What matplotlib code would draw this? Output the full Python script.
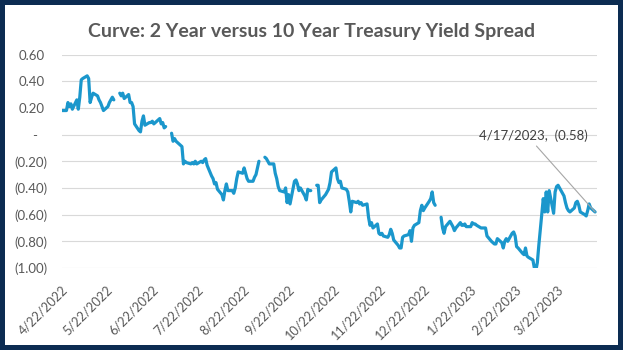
import numpy as np
import pandas as pd
import matplotlib
matplotlib.use("Agg")
import matplotlib.pyplot as plt
import matplotlib.transforms as mtransforms
from matplotlib.patches import Rectangle

nan = np.nan

# ---------------- data ----------------
start_date = "2022-04-22"
end_date = "2023-04-17"

# 2y-10y spread, one value per weekday (NaN = market holiday gap)
spread = [
    0.18,
    0.18, 0.24, 0.21, 0.23, 0.19,
    0.26, 0.19, 0.28, 0.41, 0.42,
    0.44, 0.42, 0.24, 0.28, 0.31,
    0.29, 0.26, 0.24, 0.21, 0.18,
    0.21, 0.24, 0.26, 0.28, 0.26,
    nan, 0.31, 0.29, 0.31, 0.27,
    0.30, 0.24, 0.24, 0.21, 0.08,
    0.03, 0.02, 0.10, 0.14, 0.07,
    0.09, 0.09, 0.10, 0.08, 0.09,
    0.12, 0.08, 0.09, 0.05, 0.06,
    nan, 0.01, -0.05, -0.03, -0.05,
    -0.08, -0.09, -0.22, -0.20, -0.21,
    -0.22, -0.21, -0.22, -0.20, -0.22,
    -0.20, -0.21, -0.19, -0.18, -0.23,
    -0.31, -0.33, -0.37, -0.36, -0.41,
    -0.45, -0.49, -0.42, -0.37, -0.42,
    -0.42, -0.44, -0.40, -0.33, -0.28,
    -0.29, -0.25, -0.29, -0.33, -0.35,
    -0.35, -0.32, -0.30, -0.25, -0.20,
    nan, -0.17, -0.18, -0.20, -0.22,
    -0.22, -0.29, -0.33, -0.39, -0.42,
    -0.43, -0.40, -0.51, -0.45, -0.52,
    -0.35, -0.34, -0.37, -0.42, -0.40,
    -0.46, -0.49, -0.41, -0.42, -0.42,
    nan, -0.38, -0.38, -0.51, -0.49,
    -0.45, -0.43, -0.41, -0.36, -0.28,
    -0.25, -0.33, -0.36, -0.35, -0.40,
    -0.41, -0.43, -0.50, -0.58, -0.50,
    -0.51, -0.50, -0.52, -0.51, -0.53,
    -0.52, -0.62, -0.68, -0.66, -0.70,
    -0.67, -0.74, -0.75, -0.74, -0.76,
    -0.77, -0.75, -0.71, -0.74, -0.79,
    -0.83, -0.85, -0.85, -0.77, -0.76,
    -0.75, -0.72, -0.80, -0.70, -0.68,
    -0.66, -0.57, -0.53, -0.57, -0.55,
    -0.50, -0.48, -0.43, -0.51, -0.53,
    nan, -0.62, -0.70, -0.74, -0.69,
    -0.65, -0.67, -0.69, -0.72, -0.70,
    -0.66, -0.68, -0.68, -0.67, -0.69,
    -0.69, -0.66, -0.67, -0.67, -0.68,
    -0.70, -0.70, -0.70, -0.70, -0.76,
    -0.80, -0.81, -0.82, -0.82, -0.78,
    -0.81, -0.85, -0.80, -0.78, -0.80,
    -0.74, -0.73, -0.76, -0.84, -0.85,
    -0.89, -0.90, -0.85, -0.91, -0.92,
    -0.94, -1.00, -1.02, -0.96, -0.83,
    -0.48, -0.58, -0.43, -0.58, -0.42,
    -0.59, -0.43, -0.39, -0.38, -0.40,
    -0.46, -0.51, -0.55, -0.57, -0.58,
    -0.55, -0.51, -0.50, -0.53, -0.58,
    -0.60, -0.61, -0.57, -0.52, -0.55,
    -0.58,
]

tick_dates = ["2022-04-22", "2022-05-22", "2022-06-22", "2022-07-22",
              "2022-08-22", "2022-09-22", "2022-10-22", "2022-11-22",
              "2022-12-22", "2023-01-22", "2023-02-22", "2023-03-22"]
tick_labels = ["4/22/2022", "5/22/2022", "6/22/2022", "7/22/2022",
               "8/22/2022", "9/22/2022", "10/22/2022", "11/22/2022",
               "12/22/2022", "1/22/2023", "2/22/2023", "3/22/2023"]

y_ticks = [0.6, 0.4, 0.2, 0.0, -0.2, -0.4, -0.6, -0.8, -1.0]
y_tick_labels = ["0.60", "0.40", "0.20", "-", "(0.20)", "(0.40)",
                 "(0.60)", "(0.80)", "(1.00)"]

title = "Curve: 2 Year versus 10 Year Treasury Yield Spread"

# ---------------- plot ----------------
dates = pd.bdate_range(start_date, end_date)
assert len(dates) == len(spread)

plt.rcParams['font.family'] = ['Lato', 'DejaVu Sans']

W, H = 623, 350
fig = plt.figure(figsize=(W / 100, H / 100), dpi=100)
fig.patch.set_facecolor('white')

left_px, right_px, top_px, bottom_px = 62, 597, 54.5, 268
ax = fig.add_axes([left_px / W, 1 - bottom_px / H,
                   (right_px - left_px) / W, (bottom_px - top_px) / H])

line_color = '#1b97cc'
ax.plot(dates, spread, color=line_color, lw=2.3,
        solid_joinstyle='round', solid_capstyle='round', zorder=3)

ax.set_ylim(-1.0, 0.6)
ax.set_xlim(dates[0], dates[-1] + pd.Timedelta(hours=31))

ax.set_yticks(y_ticks)
ax.set_yticklabels(y_tick_labels)
ax.grid(axis='y', color='#d9d9d9', lw=0.8)
ax.grid(axis='x', visible=False)
ax.set_axisbelow(True)
for s in ax.spines.values():
    s.set_visible(False)

tick_color = '#595959'
ax.tick_params(axis='both', length=0, colors=tick_color, labelsize=9.5)
ax.tick_params(axis='y', pad=10.3)
ax.set_xticks(pd.to_datetime(tick_dates))
ax.set_xticklabels(tick_labels, rotation=45, ha='right', va='top',
                   rotation_mode='anchor')
ax.tick_params(axis='x', pad=11, labelsize=9.2)

# accounting-style alignment of y labels
for lab in ax.get_yticklabels():
    t = lab.get_text()
    if t.startswith('('):
        dx = 0
    elif t == '-':
        dx = 11
    else:
        dx = 3.4
    lab.set_transform(lab.get_transform() +
                      mtransforms.ScaledTranslation(-dx / 100, 0, fig.dpi_scale_trans))

# data label on last point
last_d = dates[-1]
last_v = spread[-1]
last_label = f"{last_d.month}/{last_d.day}/{last_d.year},  ({abs(last_v):.2f})"
ax.annotate(last_label, xy=(last_d, last_v), xytext=(-62, 76),
            textcoords='offset pixels', ha='center', va='center',
            fontsize=9.5, color='#404040',
            arrowprops=dict(arrowstyle='-', color='#a6a6a6', lw=0.8,
                            shrinkA=1, shrinkB=0, relpos=(0.5, 0)))

fig.text(0.5, 1 - 32 / H, title, ha='center', va='center',
         fontsize=14, fontweight='bold', color='#595959')

fig.add_artist(Rectangle((0, 0), 1, 1, transform=fig.transFigure, fill=False,
                         edgecolor='#0c2c52', linewidth=7.2, clip_on=False))

fig.savefig('out.png', dpi=100)
